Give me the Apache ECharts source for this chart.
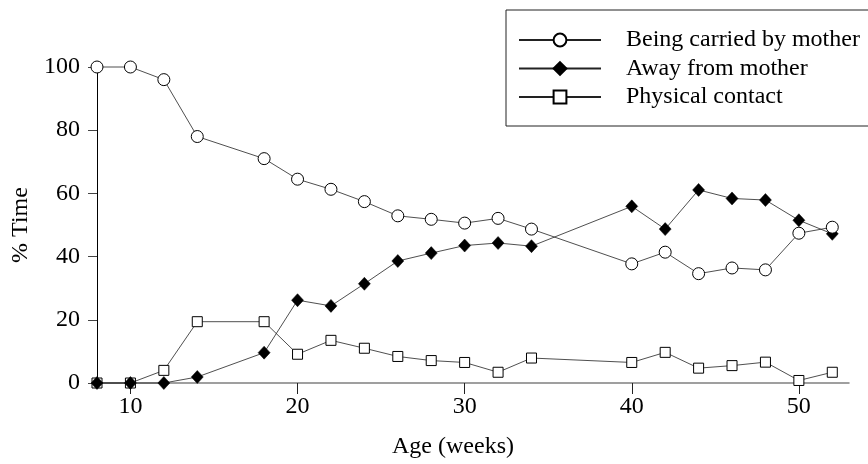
<!DOCTYPE html>
<html>
<head>
<meta charset="utf-8">
<script src="https://cdn.jsdelivr.net/npm/echarts@6/dist/echarts.min.js"></script>
<style>
html,body{margin:0;padding:0;background:#fff;}
#chart{width:868px;height:464px;}
</style>
</head>
<body>
<div id="chart"></div>
<script>
const weeks = [8,10,12,14,18,20,22,24,26,28,30,32,34,40,42,44,46,48,50,52];
const carried = [100,100,96,78,71,64.5,61.3,57.4,52.9,51.8,50.6,52.1,48.7,37.7,41.4,34.6,36.4,35.8,47.4,49.3];
const away = [0,0,0,1.9,9.6,26.2,24.4,31.4,38.6,41.1,43.5,44.3,43.3,55.9,48.7,61.1,58.4,57.9,51.5,47.2];
const contact = [0,0,4.0,19.4,19.4,9.1,13.5,11.0,8.4,7.1,6.5,3.4,7.9,6.5,9.7,4.7,5.5,6.6,0.8,3.4];
const xTicks = [10,20,30,40,50];
const yTicks = [0,20,40,60,80,100];
const seriesNames = ['Being carried by mother','Away from mother','Physical contact'];

const FONT = '"Liberation Serif", "Times New Roman", serif';
const pairs = arr => weeks.map((w,i)=>[w, arr[i]]);

const chart = echarts.init(document.getElementById('chart'), null, {renderer:'canvas'});
chart.setOption({
  animation:false,
  backgroundColor:'#fff',
  textStyle:{fontFamily:FONT, color:'#000'},
  grid:{left:97, right:19, top:67, bottom:79, containLabel:false},
  legend:{
    orient:'vertical', left:506, top:10,
    data:seriesNames,
    itemWidth:82, itemHeight:16, itemGap:4.5,
    padding:[18,10,17,12],
    borderColor:'#222', borderWidth:1,
    textStyle:{fontFamily:FONT, fontSize:24, color:'#000', padding:[0,0,0,20]}
  },
  xAxis:{
    type:'value', min:8, max:53,
    name:'Age (weeks)', nameLocation:'middle', nameGap:52,
    nameTextStyle:{fontFamily:FONT, fontSize:24, color:'#000', padding:[0,40,0,0]},
    axisLine:{show:true, onZero:false, lineStyle:{color:'#808080', width:1.5}},
    axisTick:{show:true, length:11, customValues:xTicks, lineStyle:{color:'#222'}},
    axisLabel:{customValues:xTicks, fontFamily:FONT, fontSize:24, color:'#000', margin:12},
    splitLine:{show:false}
  },
  yAxis:{
    type:'value', min:0, max:100, interval:20,
    name:'% Time', nameLocation:'middle', nameGap:64, nameRotate:90,
    nameTextStyle:{fontFamily:FONT, fontSize:24, color:'#000'},
    axisLine:{show:true, lineStyle:{color:'#000', width:1}},
    axisTick:{show:true, length:9, customValues:yTicks, lineStyle:{color:'#444'}},
    axisLabel:{customValues:yTicks, fontFamily:FONT, fontSize:24, color:'#000', margin:17},
    splitLine:{show:false}
  },
  series:[
    {
      name:seriesNames[0], type:'line', data:pairs(carried), z:4, clip:false,
      symbol:'circle', symbolSize:12, showAllSymbol:true,
      lineStyle:{color:'#222', width:0.8},
      itemStyle:{color:'#fff', borderColor:'#000', borderWidth:1}
    },
    {
      name:seriesNames[1], type:'line', data:pairs(away), z:3, clip:false,
      symbol:'diamond', symbolSize:[12,13], showAllSymbol:true,
      lineStyle:{color:'#222', width:0.8},
      itemStyle:{color:'#000', borderColor:'#000', borderWidth:0.5}
    },
    {
      name:seriesNames[2], type:'line', data:pairs(contact), z:2, clip:false,
      symbol:'rect', symbolSize:10, showAllSymbol:true,
      lineStyle:{color:'#222', width:0.8},
      itemStyle:{color:'#fff', borderColor:'#000', borderWidth:1}
    }
  ]
});
</script>
</body>
</html>
